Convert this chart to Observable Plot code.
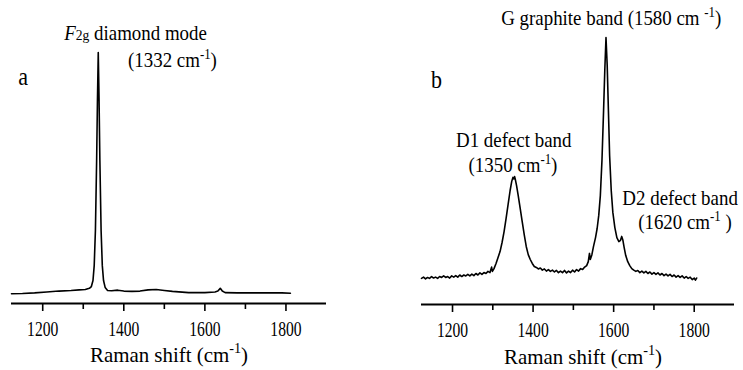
<!DOCTYPE html>
<html><head><meta charset="utf-8">
<script src="https://cdn.jsdelivr.net/npm/d3@7"></script>
<script src="https://cdn.jsdelivr.net/npm/@observablehq/plot@0.6"></script>
<style>
body{margin:0;background:#fff;}
#wrap{display:flex;width:743px;height:370px;overflow:hidden;}
#wrap svg{overflow:visible;}
</style></head><body><div id="wrap"></div>
<script>
// ---- data ----
const xDomain = [1123, 1900];
const majorTicks = [1200, 1400, 1600, 1800];
const minorTicks = [1300, 1500, 1700];
const axisTitle = "Raman shift (cm-1)";
const SERIF = "Liberation Serif, Times New Roman, serif";

// panel a : diamond film spectrum
const shiftA = [1123,1150,1180,1210,1240,1270,1290,1305,1315,1320,1324,1327,1330,1333,1335,1337,1339,1341,1344,1347,1350,1354,1360,1370,1385,1400,1420,1440,1460,1480,1500,1520,1560,1600,1625,1632,1638,1643,1650,1680,1720,1760,1790,1811];
const intensityA = [3.2,3.3,3.5,3.8,4.1,4.3,4.5,4.6,5.0,5.6,7.6,12.5,24.1,47.2,67.0,82.8,67.0,47.2,24.1,12.5,7.6,5.3,4.3,4.2,4.4,4.1,4.0,4.1,4.5,4.6,4.3,4.0,3.6,3.6,3.8,4.1,5.0,4.1,3.6,3.5,3.5,3.5,3.5,3.4];

// panel b : graphitic carbon spectrum
const shiftB = [1123,1128,1133,1138,1143,1148,1153,1158,1163,1168,1173,1178,1183,1188,1193,1198,1203,1208,1213,1218,1223,1228,1233,1238,1243,1248,1253,1258,1263,1268,1273,1278,1283,1288,1293,1297,1299,1303,1308,1313,1318,1323,1328,1333,1338,1343,1347,1350,1352,1354,1356,1359,1363,1368,1373,1378,1383,1388,1393,1398,1403,1408,1413,1418,1423,1428,1433,1438,1443,1448,1453,1458,1463,1468,1473,1478,1483,1488,1493,1498,1503,1508,1513,1518,1523,1528,1533,1537,1540,1542,1546,1550,1555,1559,1563,1567,1571,1575,1578,1581,1584,1587,1590,1594,1598,1603,1608,1613,1617,1620,1623,1626,1630,1635,1640,1645,1650,1655,1660,1665,1670,1675,1680,1685,1690,1695,1700,1705,1710,1715,1720,1725,1730,1735,1740,1745,1750,1755,1760,1765,1770,1775,1780,1785,1790,1795,1800,1803,1806];
const intensityB = [8.6,9.0,8.4,8.9,8.6,9.2,8.7,9.0,8.6,9.2,8.9,9.4,8.9,9.2,8.7,9.4,9.0,9.5,9.0,9.7,9.2,9.7,9.4,9.9,9.4,10.0,9.5,10.2,9.7,10.4,9.9,10.5,10.2,10.9,10.5,12.3,10.9,11.8,13.5,15.5,17.4,20.4,24.0,28.3,32.9,37.5,40.5,41.8,41.3,42.1,41.1,39.1,35.9,31.6,27.3,23.0,19.1,16.4,14.8,13.5,12.5,12.2,11.7,12.0,11.3,11.7,11.0,11.5,10.9,11.3,10.7,11.2,10.5,11.0,10.5,11.2,10.4,11.0,10.5,11.3,10.7,11.5,11.0,11.8,11.5,12.3,12.8,14.1,16.8,14.8,16.4,19.1,22.0,25.0,29.3,35.9,47.4,63.8,77.0,87.8,78.6,63.8,49.0,37.5,30.3,25.3,22.0,20.7,21.1,22.4,21.1,18.8,16.1,14.1,12.8,11.8,11.3,10.9,11.2,10.5,11.0,10.4,10.9,10.2,10.7,10.0,10.5,9.9,10.4,9.7,10.2,9.5,10.0,9.4,9.9,9.2,9.7,9.0,9.5,8.9,9.4,8.7,9.2,8.6,9.0,8.2,8.7,8.0,8.7];

// annotations (data coordinates)
const panelLetterA = [{text: "a", x: 1152, y: 74.6}];
const panelLetterB = [{text: "b", x: 1160, y: 73.7}];
const notesA = [
  {text: "F2g diamond mode", x: 1429, y: 89.1},
  {text: "(1332 cm-1)", x: 1520, y: 80.2}
];
const notesB = [
  {text: "G graphite band (1580 cm -1)", x: 1594, y: 94.1},
  {text: "D1 defect band", x: 1352, y: 53.9},
  {text: "(1350 cm-1)", x: 1350, y: 45.7},
  {text: "D2 defect band", x: 1765, y: 34.9},
  {text: "(1620 cm-1 )", x: 1777, y: 27.0}
];

function panel({shift, inten, letters, notes, width, ml, mr, mb, titleDy, titleDx}) {
  const data = shift.map((x, i) => ({x, y: inten[i]}));
  return Plot.plot({
    width, height: 370,
    marginLeft: ml, marginRight: mr, marginTop: 0, marginBottom: mb,
    x: {domain: xDomain, label: null},
    y: {domain: [0, 100], axis: null},
    style: {fontFamily: SERIF, background: "white", color: "#000"},
    marks: [
      Plot.axisX({ticks: minorTicks, tickSize: 6, tickFormat: () => "", strokeWidth: 1.6, label: null}),
      Plot.axisX({ticks: majorTicks, tickSize: 8, tickPadding: 10, tickFormat: d => String(d), fontSize: 20, fontFamily: SERIF, strokeWidth: 1.6, label: null}),
      Plot.ruleY([0], {stroke: "#000", strokeWidth: 2}),
      Plot.line(data, {x: "x", y: "y", stroke: "#000", strokeWidth: 1.6}),
      Plot.text(letters, {x: "x", y: "y", text: "text", fontSize: 25, fontFamily: SERIF, fill: "#000"}),
      Plot.text(notes, {x: "x", y: "y", text: "text", fontSize: 21, fontFamily: SERIF, fill: "#000"}),
      Plot.text([axisTitle], {text: d => d, frameAnchor: "bottom", dy: titleDy, dx: titleDx, fontSize: 22, fontFamily: SERIF, fill: "#000"})
    ]
  });
}

const wrap = document.getElementById("wrap");
const svgA = panel({shift: shiftA, inten: intensityA, letters: panelLetterA, notes: notesA, width: 371, ml: 11, mr: 45, mb: 67, titleDy: 58, titleDx: 0});
const svgB = panel({shift: shiftB, inten: intensityB, letters: panelLetterB, notes: notesB, width: 372, ml: 50, mr: 9, mb: 66, titleDy: 59, titleDx: 5});
wrap.append(svgA, svgB);

// rich text: superscripts, italic F and small "2g"; then horizontal condensing like the source figure
function finish(svg) {
  d3.select(svg).selectAll("text").each(function () {
    const el = this;
    const t = el.textContent;
    const fs = parseFloat(getComputedStyle(el).fontSize);
    const m = t.match(/^(.*cm ?)(-1)(.*)$/);
    if (m) {
      el.textContent = "";
      const s = d3.select(el);
      s.append("tspan").text(m[1]);
      s.append("tspan").attr("dy", -0.4 * fs).style("font-size", (0.68 * fs) + "px").text(m[2]);
      s.append("tspan").attr("dy", 0.4 * fs).text(m[3]);
    } else if (t.startsWith("F2g")) {
      el.textContent = "";
      const s = d3.select(el);
      s.append("tspan").style("font-style", "italic").text("F");
      s.append("tspan").style("font-size", (0.72 * fs) + "px").text("2g");
      s.append("tspan").text(t.slice(3));
    }
    let k = 0.9;
    if (/^\d+$/.test(t)) k = 0.78;
    else if (t.startsWith("Raman")) k = 0.95;
    else if (t.length === 1) k = 0.88;
    const w = el.getComputedTextLength();
    if (w > 0) {
      el.setAttribute("textLength", (w * k).toFixed(1));
      el.setAttribute("lengthAdjust", "spacingAndGlyphs");
    }
  });
}
finish(svgA);
finish(svgB);
</script>
</body></html>
